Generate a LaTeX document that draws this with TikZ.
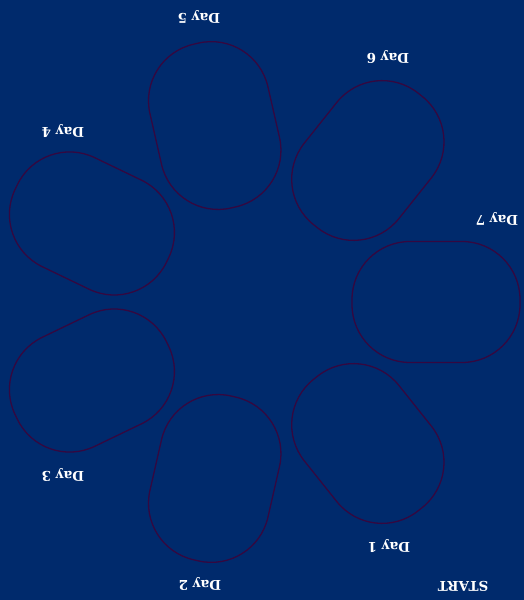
\documentclass[tikz,border=0pt]{standalone}
\usepackage{fontspec}
\usetikzlibrary{calc}
\newfontfamily\labelfont{DejaVu Serif}
\definecolor{bgblue}{RGB}{0,42,108}
\definecolor{ringline}{RGB}{52,8,64}
\begin{document}
\begin{tikzpicture}[x=1pt,y=1pt,
  daybox/.style={draw=ringline, line width=1.3pt, fill=bgblue, rectangle,
    rounded corners=58pt, minimum width=168pt, minimum height=121pt, inner sep=0pt},
  daylabel/.style={text=white, font=\labelfont\bfseries\fontsize{13.5}{15}\selectfont, rotate=180, inner sep=0pt}]
\fill[bgblue] (0,0) rectangle (524,600);
\useasboundingbox (0,0) rectangle (524,600);
\coordinate (c) at (255,298);
\foreach \k/\nm in {0/d7,1/d1,2/d2,3/d3,4/d4,5/d5,6/d6}{
  \node[daybox, rotate={-\k*360/7}] (\nm) at ($(c)+({-\k*360/7}:181)$) {};
}
\node[daylabel] (l7) at (497,381) {Day 7};
\node[daylabel] (l1) at (389,54) {Day 1};
\node[daylabel] (l2) at (200,16) {Day 2};
\node[daylabel] (l3) at (63,125) {Day 3};
\node[daylabel] (l4) at (63,469) {Day 4};
\node[daylabel] (l5) at (199,583) {Day 5};
\node[daylabel] (l6) at (388,543) {Day 6};
\node[daylabel] (ls) at (463,14) {START};
\end{tikzpicture}
\end{document}
